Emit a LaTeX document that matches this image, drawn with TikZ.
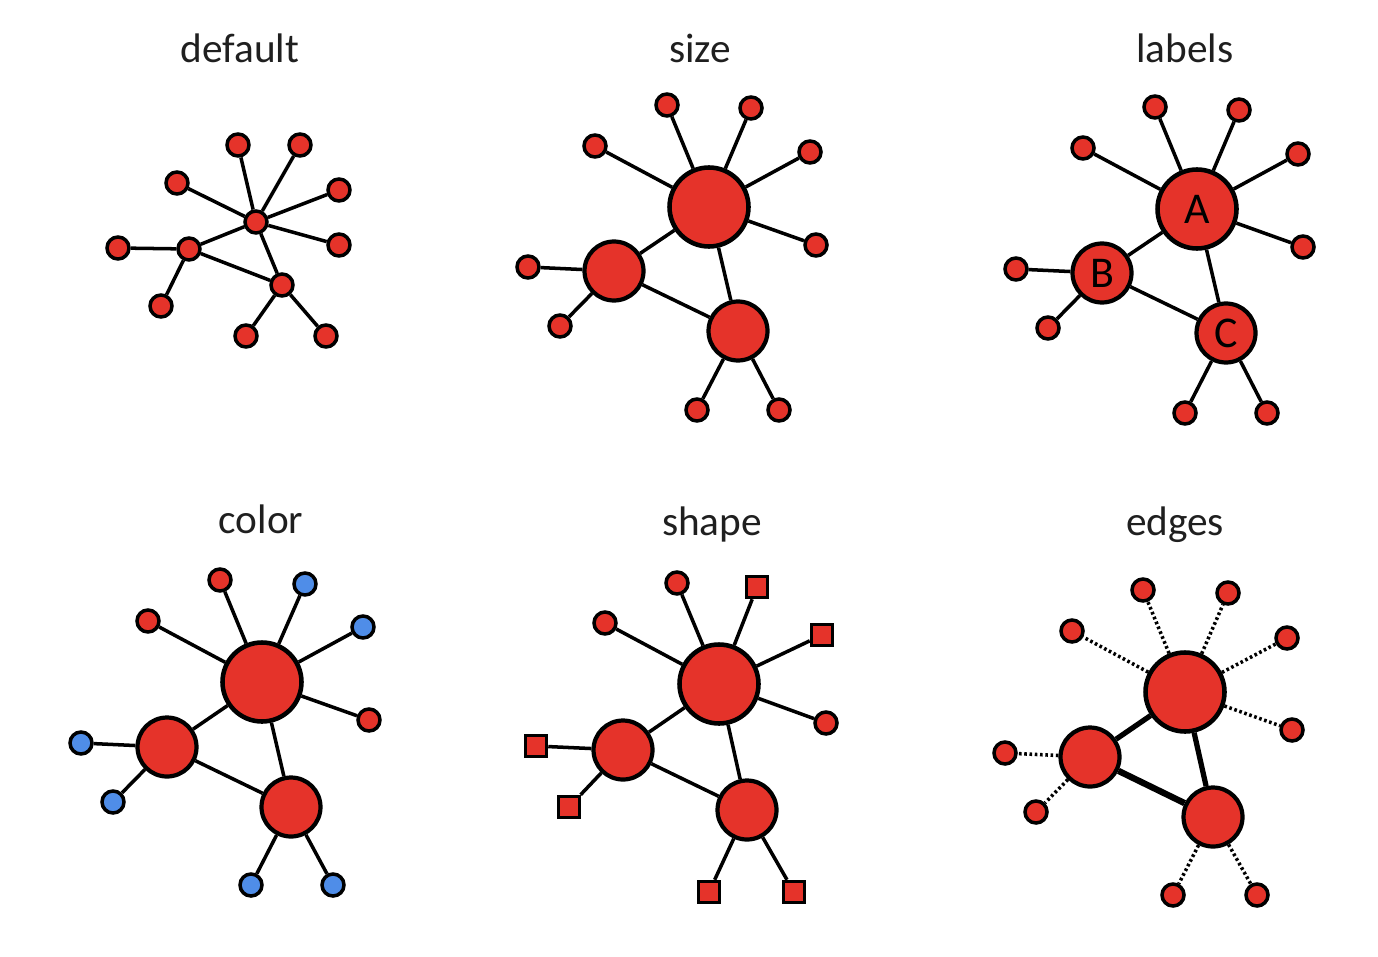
\documentclass[tikz,border=0pt]{standalone}
\usepackage{fontspec}
\setmainfont{Carlito}

\definecolor{nodered}{HTML}{E5332A}
\definecolor{nodeblue}{HTML}{4F8DE8}

\tikzset{
  leaf/.style={circle, draw=black, line width=2pt, fill=nodered, inner sep=0pt, minimum size=0.44cm},
  blueleaf/.style={leaf, fill=nodeblue},
  sqleaf/.style={rectangle, draw=black, line width=2pt, fill=nodered, inner sep=0pt, minimum size=0.42cm},
  hub/.style={circle, draw=black, line width=2.4pt, fill=nodered, inner sep=0pt, minimum size=1.18cm, font=\fontsize{25}{28}\selectfont},
  bighub/.style={hub, line width=2.6pt, minimum size=1.58cm},
  title/.style={anchor=base, font=\fontsize{23.5}{28}\selectfont, text=black!88},
  link/.style={line width=2pt},
  dotlink/.style={line width=2pt, dash pattern=on 1.5pt off 1.5pt},
}

\begin{document}
\begin{tikzpicture}[x=0.02cm, y=-0.02cm]

  \useasboundingbox (0,0) rectangle (1378,956);

  % --- 1. default ---
  \node[title] (tdef) at (240,63) {default};
  \node[leaf] (dA) at (256,222) {};
  \node[leaf] (dB) at (189,249) {};
  \node[leaf] (dC) at (282,285) {};
  \node[leaf] (d1) at (238,145) {};
  \node[leaf] (d2) at (300,145) {};
  \node[leaf] (d3) at (177,183) {};
  \node[leaf] (d4) at (339,190) {};
  \node[leaf] (d5) at (339,245) {};
  \node[leaf] (d6) at (118,248) {};
  \node[leaf] (d7) at (161,306) {};
  \node[leaf] (d8) at (246,336) {};
  \node[leaf] (d9) at (326,336) {};
  \draw[link] (dA) -- (dB) (dA) -- (dC) (dB) -- (dC)
              (dA) -- (d1) (dA) -- (d2) (dA) -- (d3) (dA) -- (d4) (dA) -- (d5)
              (dB) -- (d6) (dB) -- (d7) (dC) -- (d8) (dC) -- (d9);

  % --- 2. size ---
  \node[title] (tsize) at (700,63) {size};
  \node[bighub] (sA) at (709,207) {};
  \node[hub] (sB) at (614,271) {};
  \node[hub] (sC) at (738,331) {};
  \node[leaf] (s1) at (667,105) {};
  \node[leaf] (s2) at (751,108) {};
  \node[leaf] (s3) at (595,146) {};
  \node[leaf] (s4) at (810,152) {};
  \node[leaf] (s5) at (816,245) {};
  \node[leaf] (s6) at (528,267) {};
  \node[leaf] (s7) at (560,326) {};
  \node[leaf] (s8) at (697,410) {};
  \node[leaf] (s9) at (779,410) {};
  \draw[link] (sA) -- (sB) (sA) -- (sC) (sB) -- (sC)
              (sA) -- (s1) (sA) -- (s2) (sA) -- (s3) (sA) -- (s4) (sA) -- (s5)
              (sB) -- (s6) (sB) -- (s7) (sC) -- (s8) (sC) -- (s9);

  % --- 3. labels ---
  \node[title] (tlab) at (1185,63) {labels};
  \node[bighub] (lA) at (1197,209) {A};
  \node[hub] (lB) at (1102,273) {B};
  \node[hub] (lC) at (1226,333) {C};
  \node[leaf] (l1) at (1155,107) {};
  \node[leaf] (l2) at (1239,110) {};
  \node[leaf] (l3) at (1083,148) {};
  \node[leaf] (l4) at (1298,154) {};
  \node[leaf] (l5) at (1303,247) {};
  \node[leaf] (l6) at (1016,269) {};
  \node[leaf] (l7) at (1048,328) {};
  \node[leaf] (l8) at (1185,413) {};
  \node[leaf] (l9) at (1267,413) {};
  \draw[link] (lA) -- (lB) (lA) -- (lC) (lB) -- (lC)
              (lA) -- (l1) (lA) -- (l2) (lA) -- (l3) (lA) -- (l4) (lA) -- (l5)
              (lB) -- (l6) (lB) -- (l7) (lC) -- (l8) (lC) -- (l9);

  % --- 4. color ---
  \node[title] (tcol) at (261,533) {color};
  \node[bighub] (cA) at (262,682) {};
  \node[hub] (cB) at (167,747) {};
  \node[hub] (cC) at (291,807) {};
  \node[leaf] (c1) at (220,580) {};
  \node[blueleaf] (c2) at (305,584) {};
  \node[leaf] (c3) at (148,621) {};
  \node[blueleaf] (c4) at (363,627) {};
  \node[leaf] (c5) at (369,720) {};
  \node[blueleaf] (c6) at (81,743) {};
  \node[blueleaf] (c7) at (113,802) {};
  \node[blueleaf] (c8) at (251,885) {};
  \node[blueleaf] (c9) at (333,885) {};
  \draw[link] (cA) -- (cB) (cA) -- (cC) (cB) -- (cC)
              (cA) -- (c1) (cA) -- (c2) (cA) -- (c3) (cA) -- (c4) (cA) -- (c5)
              (cB) -- (c6) (cB) -- (c7) (cC) -- (c8) (cC) -- (c9);

  % --- 5. shape ---
  \node[title] (tshp) at (712,535) {shape};
  \node[bighub] (pA) at (719,684) {};
  \node[hub] (pB) at (623,750) {};
  \node[hub] (pC) at (747,810) {};
  \node[leaf] (p1) at (677,583) {};
  \node[sqleaf] (p2) at (757,587) {};
  \node[leaf] (p3) at (605,623) {};
  \node[sqleaf] (p4) at (822,635) {};
  \node[leaf] (p5) at (826,723) {};
  \node[sqleaf] (p6) at (536,746) {};
  \node[sqleaf] (p7) at (569,807) {};
  \node[sqleaf] (p8) at (709,892) {};
  \node[sqleaf] (p9) at (794,892) {};
  \draw[link] (pA) -- (pB) (pA) -- (pC) (pB) -- (pC)
              (pA) -- (p1) (pA) -- (p2) (pA) -- (p3) (pA) -- (p4) (pA) -- (p5)
              (pB) -- (p6) (pB) -- (p7) (pC) -- (p8) (pC) -- (p9);

  % --- 6. edges ---
  \node[title] (tedg) at (1175,535) {edges};
  \node[bighub] (eA) at (1185,692) {};
  \node[hub] (eB) at (1090,757) {};
  \node[hub] (eC) at (1213,817) {};
  \node[leaf] (e1) at (1143,590) {};
  \node[leaf] (e2) at (1228,593) {};
  \node[leaf] (e3) at (1072,631) {};
  \node[leaf] (e4) at (1287,638) {};
  \node[leaf] (e5) at (1292,730) {};
  \node[leaf] (e6) at (1005,753) {};
  \node[leaf] (e7) at (1036,812) {};
  \node[leaf] (e8) at (1173,895) {};
  \node[leaf] (e9) at (1257,895) {};
  \draw[line width=3pt] (eA) -- (eB) (eA) -- (eC);
  \draw[line width=3.6pt] (eB) -- (eC);
  \draw[dotlink] (eA) -- (e1) (eA) -- (e2) (eA) -- (e3) (eA) -- (e4) (eA) -- (e5)
                 (eB) -- (e6) (eB) -- (e7) (eC) -- (e8) (eC) -- (e9);

\end{tikzpicture}
\end{document}
